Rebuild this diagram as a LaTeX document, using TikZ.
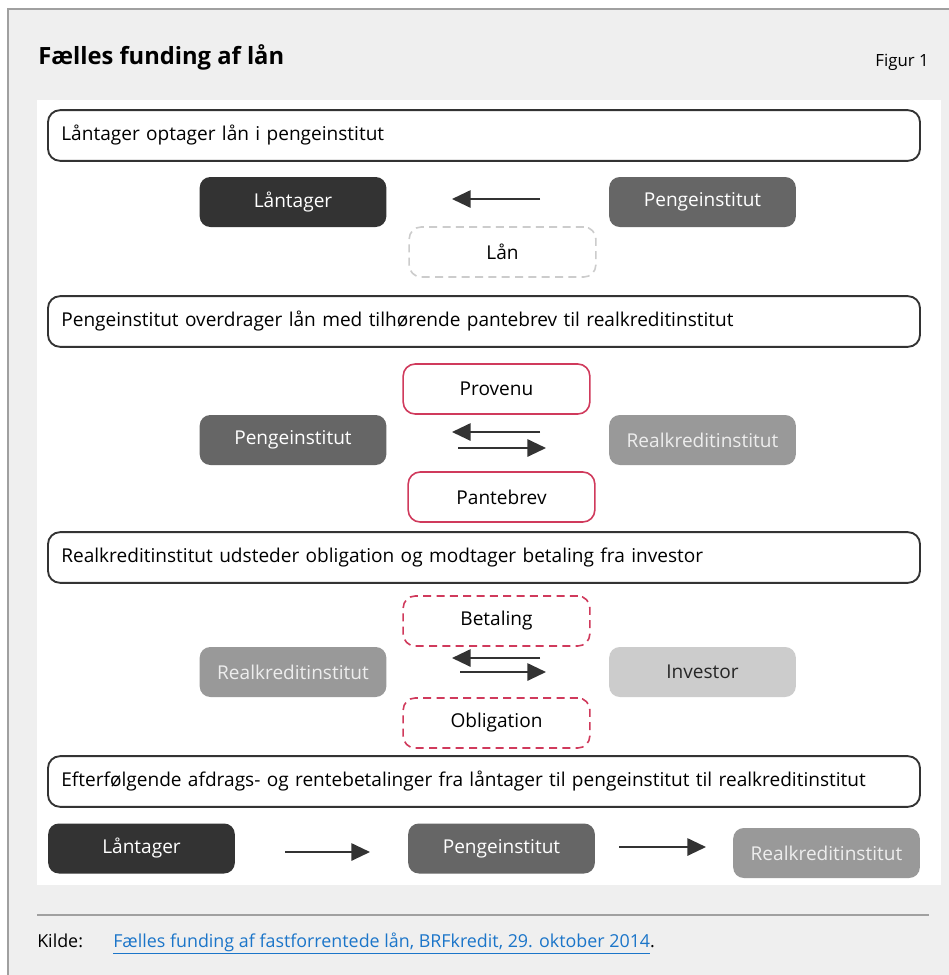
\documentclass[tikz,border=0pt]{standalone}
\usepackage{fontspec}
\setmainfont{Open Sans}
\usepackage{tikz}
\usetikzlibrary{arrows.meta}
\usetikzlibrary{positioning}

\definecolor{pagegray}{HTML}{EFEFEF}
\definecolor{rimgray}{HTML}{A0A0A0}
\definecolor{actdark}{HTML}{333333}
\definecolor{actmid}{HTML}{666666}
\definecolor{actlight}{HTML}{999999}
\definecolor{actpale}{HTML}{CCCCCC}
\definecolor{flowred}{HTML}{D03A5C}
\definecolor{linkblue}{HTML}{1B75C9}

\tikzset{
  headbox/.style={draw=black!80,line width=1.4pt,rounded corners=9pt,fill=white,
    minimum width=654pt,minimum height=38pt,text width=634pt,align=left,font=\fontsize{14.3}{16}\selectfont},
  actor/.style={rounded corners=8pt,minimum width=140pt,minimum height=37.5pt,text=white,font=\fontsize{14.3}{16}\selectfont},
  flowbox/.style={draw=flowred,line width=1.2pt,rounded corners=9pt,fill=white,minimum width=140pt,minimum height=37.5pt,font=\fontsize{14.3}{16}\selectfont},
  flowdash/.style={flowbox,dashed,dash pattern=on 6pt off 4pt},
  tipline/.style={line width=1.5pt,draw=actdark,-{Triangle[length=14pt,width=13pt]}}
}

\begin{document}
\begin{tikzpicture}[x=0.75pt,y=-0.75pt]
  \useasboundingbox (0,0) rectangle (949,975);
  \fill[white] (0,0) rectangle (949,975);
  \fill[pagegray] (8,9) rectangle (949,975);
  \draw[rimgray,line width=1pt] (8,975) -- (8,9) -- (949,9);
  \fill[white] (37,100) rectangle (941,885);

  \node[anchor=base west,inner xsep=0pt,font=\fontsize{17.8}{22}\selectfont\bfseries] (title) at (38,64) {Fælles funding af lån};
  \node[anchor=base east,inner xsep=0pt,font=\fontsize{12.6}{14}\selectfont] (fig) at (929,66) {Figur 1};

  % trin 1
  \node[headbox] (h1) at (484,135.5) {Låntager optager lån i pengeinstitut};
  \node[actor,fill=actdark] (l1) at (293,202) {Låntager};
  \node[actor,fill=actmid] (p1) at (702.5,202) {Pengeinstitut};
  \node[flowdash,draw=actpale,line width=1.2pt] (laan) at (502.5,252) {Lån};
  \coordinate (a1s) at (540,199);
  \coordinate (a1e) at (452,199);
  \draw[tipline] (a1s) -- (a1e);

  % trin 2
  \node[headbox] (h2) at (484,321.5) {Pengeinstitut overdrager lån med tilhørende pantebrev til realkreditinstitut};
  \node[flowbox] (prov) at (496.5,389) {Provenu};
  \node[actor,fill=actmid] (p2) at (293,440) {Pengeinstitut};
  \node[actor,fill=actlight,text=white!93!black] (r2) at (702.5,440) {Realkreditinstitut};
  \node[flowbox] (pant) at (501.5,497) {Pantebrev};
  \coordinate (a2s) at (540,432);
  \coordinate (a2e) at (452,432);
  \coordinate (b2s) at (458,448);
  \coordinate (b2e) at (546,448);
  \draw[tipline] (a2s) -- (a2e);
  \draw[tipline] (b2s) -- (b2e);

  % trin 3
  \node[headbox] (h3) at (484,557.5) {Realkreditinstitut udsteder obligation og modtager betaling fra investor};
  \node[flowdash] (bet) at (496.5,621) {Betaling};
  \node[actor,fill=actlight,text=white!93!black] (r3) at (293,672) {Realkreditinstitut};
  \node[actor,fill=actpale,text=black!85] (inv) at (702.5,672) {Investor};
  \node[flowdash] (obl) at (496.5,723) {Obligation};
  \coordinate (a3s) at (540,658);
  \coordinate (a3e) at (452,658);
  \coordinate (b3s) at (460,672);
  \coordinate (b3e) at (546,672);
  \draw[tipline] (a3s) -- (a3e);
  \draw[tipline] (b3s) -- (b3e);

  % trin 4
  \node[headbox] (h4) at (484,781.5) {Efterfølgende afdrags- og rentebetalinger fra låntager til pengeinstitut til realkreditinstitut};
  \node[actor,fill=actdark] (l4) at (141.5,848.5) {Låntager};
  \node[actor,fill=actmid] (p4) at (501.5,848.5) {Pengeinstitut};
  \node[actor,fill=actlight,text=white!93!black] (r4) at (826.5,853) {Realkreditinstitut};
  \coordinate (c4s) at (285,852);
  \coordinate (c4e) at (370,852);
  \coordinate (d4s) at (619,847);
  \coordinate (d4e) at (706,847);
  \draw[tipline] (c4s) -- (c4e);
  \draw[tipline] (d4s) -- (d4e);

  % kilde
  \draw[rimgray,line width=1pt] (37,915) -- (929,915);
  \node[anchor=base west,inner xsep=0pt,font=\fontsize{13.4}{15}\selectfont] (kilde) at (37,947) {Kilde:};
  \node[anchor=base west,font=\fontsize{13.4}{15}\selectfont,inner xsep=0pt] (link) at (113,947)
    {\textcolor{linkblue}{\underline{Fælles funding af fastforrentede lån, BRFkredit, 29. oktober 2014}}.};
\end{tikzpicture}
\end{document}
